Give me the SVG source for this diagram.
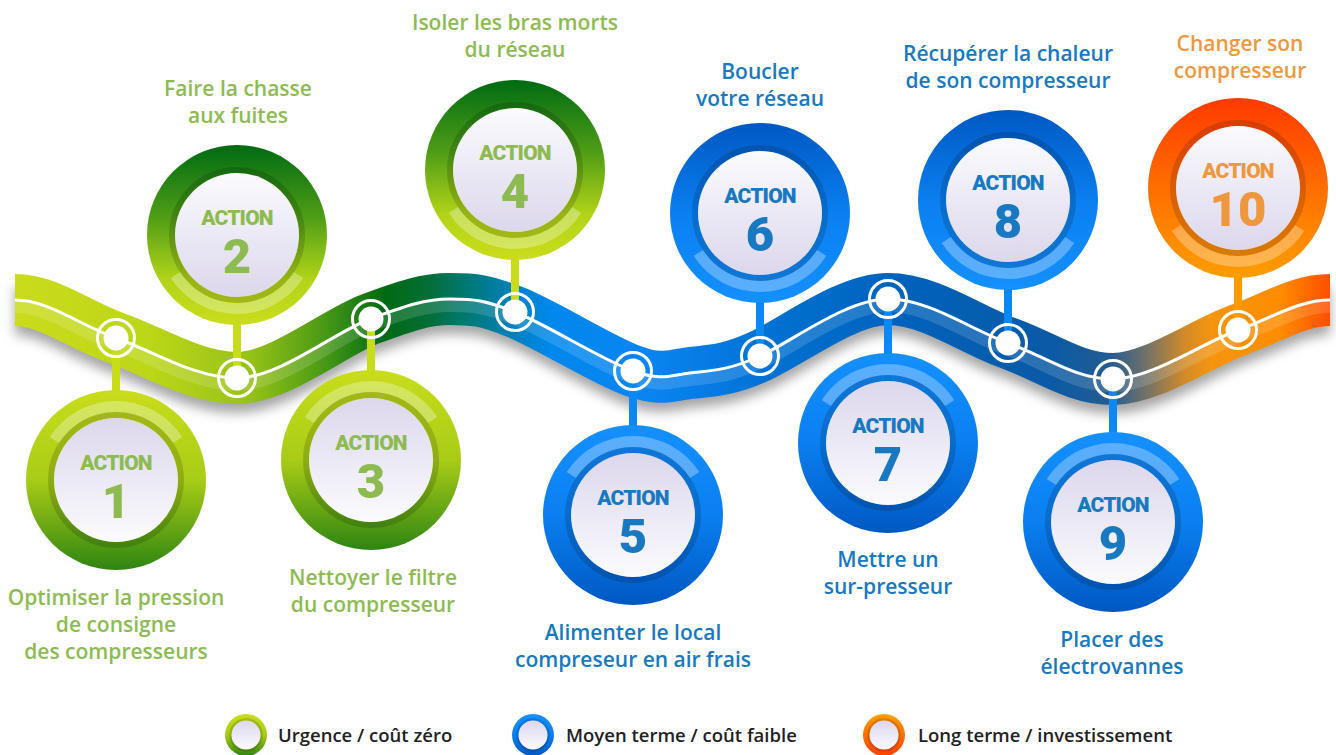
<svg xmlns="http://www.w3.org/2000/svg" xmlns:xlink="http://www.w3.org/1999/xlink" width="1336" height="755" viewBox="0 0 1336 755">
<defs>
<style>
.lbl{font-family:"Open Sans","Liberation Sans",sans-serif;font-weight:600;font-size:21px;text-anchor:middle}
.g{fill:#8dbb52}.b{fill:#1878c0}.o{fill:#ef973f}
.act{font-family:Roboto,"Liberation Sans",sans-serif;font-weight:900;font-size:21px;text-anchor:middle;letter-spacing:-0.8px}
.num{font-family:Roboto,"Liberation Sans",sans-serif;font-weight:900;font-size:49px;text-anchor:middle}
.hl{fill:#fff;fill-opacity:.3}
.dk{fill:none;stroke:#000;stroke-opacity:.15;stroke-width:6}
.stem{stroke-width:8;fill:none}
.sg{stroke:#c8dc1a}.sb{stroke:#0a88f6}.so{stroke:#ff9a00}
.dot{fill:#fff}
.dring{fill:none;stroke:#fff;stroke-width:3}
.leg{font-family:"Open Sans","Liberation Sans",sans-serif;font-weight:600;font-size:18.5px;fill:#222}
</style>
<linearGradient id="ribbon" gradientUnits="userSpaceOnUse" x1="15" y1="0" x2="1330" y2="0">
<stop offset="0" stop-color="#cadc1c"/>
<stop offset="0.103" stop-color="#bcd618"/>
<stop offset="0.179" stop-color="#96c218"/>
<stop offset="0.232" stop-color="#4e9c16"/>
<stop offset="0.281" stop-color="#006a12"/>
<stop offset="0.316" stop-color="#046e3a"/>
<stop offset="0.346" stop-color="#007a78"/>
<stop offset="0.376" stop-color="#0080b8"/>
<stop offset="0.407" stop-color="#0088ee"/>
<stop offset="0.483" stop-color="#0a84f2"/>
<stop offset="0.582" stop-color="#0070d0"/>
<stop offset="0.673" stop-color="#0062bc"/>
<stop offset="0.787" stop-color="#0a5aa6"/>
<stop offset="0.833" stop-color="#245c92"/>
<stop offset="0.863" stop-color="#7a7462"/>
<stop offset="0.890" stop-color="#d48a28"/>
<stop offset="0.909" stop-color="#f4960e"/>
<stop offset="0.962" stop-color="#ff8c00"/>
<stop offset="1" stop-color="#ff4e00"/>
</linearGradient>
<linearGradient id="rgB" x1="0" y1="0" x2="0" y2="1"><stop offset="0" stop-color="#c9dd1b"/><stop offset="0.5" stop-color="#a8cc17"/><stop offset="1" stop-color="#2e8512"/></linearGradient>
<linearGradient id="rgT" x1="0" y1="0" x2="0" y2="1"><stop offset="0" stop-color="#006b12"/><stop offset="0.4" stop-color="#4f9d16"/><stop offset="0.75" stop-color="#b3d418"/><stop offset="1" stop-color="#cadd1b"/></linearGradient>
<linearGradient id="rbB" x1="0" y1="0" x2="0" y2="1"><stop offset="0" stop-color="#1590ff"/><stop offset="0.5" stop-color="#0a7ff0"/><stop offset="1" stop-color="#0058c2"/></linearGradient>
<linearGradient id="rbT" x1="0" y1="0" x2="0" y2="1"><stop offset="0" stop-color="#0058c2"/><stop offset="0.5" stop-color="#0a7ff0"/><stop offset="1" stop-color="#1590ff"/></linearGradient>
<linearGradient id="roT" x1="0" y1="0" x2="0" y2="1"><stop offset="0" stop-color="#ff3a00"/><stop offset="0.5" stop-color="#ff6e00"/><stop offset="1" stop-color="#ff9e00"/></linearGradient>
<linearGradient id="roB" x1="0" y1="0" x2="0" y2="1"><stop offset="0" stop-color="#ff9e00"/><stop offset="1" stop-color="#ff4000"/></linearGradient>
<linearGradient id="dB" x1="0" y1="0" x2="0" y2="1"><stop offset="0" stop-color="#dcd7ec"/><stop offset="1" stop-color="#fbfbfe"/></linearGradient>
<linearGradient id="dT" x1="0" y1="0" x2="0" y2="1"><stop offset="0" stop-color="#fbfbfe"/><stop offset="1" stop-color="#dcd7ec"/></linearGradient>
<filter id="shadow" x="-5%" y="-50%" width="110%" height="200%"><feGaussianBlur stdDeviation="6"/></filter>
<path id="wave" d="M15,300 C48.7,300 79,325 116,338 C153,351 194.7,378 237,378 C279.3,378 334.5,332.2 370,319 C405.5,305.8 425.8,299 450,299 C474.2,299 484.5,300 515,312 C545.5,324 603.8,360.8 633,371 C662.2,381.2 668.8,375.5 690,373 C711.2,370.5 727,371 760,356 C793,341 846.7,299 888,299 C929.3,299 970.5,329.7 1008,343 C1045.5,356.3 1074.7,379 1113,379 C1151.3,379 1201.8,343.2 1238,330 C1274.2,316.8 1299.3,300 1330,300"/>
<path id="hl" d="M-66.3,-43 A79,79 0 0 1 66.3,-43 L57,-37 A68,68 0 0 0 -57,-37 Z"/>
</defs>

<rect width="1336" height="755" fill="#fff"/>

<g id="timeline">
<use xlink:href="#wave" href="#wave" fill="none" stroke="#000" stroke-opacity="0.35" stroke-width="48" transform="translate(0,11)" filter="url(#shadow)"/>
<use xlink:href="#wave" href="#wave" fill="none" stroke="url(#ribbon)" stroke-width="52"/>
<use xlink:href="#wave" href="#wave" fill="none" stroke="#fff" stroke-opacity="0.14" stroke-width="14" transform="translate(0,6)"/>
<use xlink:href="#wave" href="#wave" fill="none" stroke="#fff" stroke-width="3"/>
</g>

<g id="connectors">
<line class="stem sg" x1="116" y1="338" x2="116" y2="480"/>
<line class="stem sg" x1="237" y1="378" x2="237" y2="235"/>
<line class="stem sg" x1="371" y1="319" x2="371" y2="460"/>
<line class="stem sg" x1="515" y1="312" x2="515" y2="170"/>
<line class="stem sb" x1="633" y1="371" x2="633" y2="515"/>
<line class="stem sb" x1="760" y1="356" x2="760" y2="213"/>
<line class="stem sb" x1="888" y1="299" x2="888" y2="443"/>
<line class="stem sb" x1="1008" y1="343" x2="1008" y2="200"/>
<line class="stem sb" x1="1113" y1="379" x2="1113" y2="522"/>
<line class="stem so" x1="1238" y1="330" x2="1238" y2="188"/>
</g>

<g id="action1">
<circle class="dot" cx="116" cy="338" r="12.5"/><circle class="dring" cx="116" cy="338" r="18.5"/>
<g transform="translate(116,480)">
<circle r="90" fill="url(#rgB)"/><use xlink:href="#hl" href="#hl" class="hl"/><circle r="65" class="dk"/><circle r="62" fill="url(#dB)"/>
<text class="act g" y="-10">ACTION</text><text class="num g" y="38">1</text>
</g>
<text class="lbl g" x="116" y="605">Optimiser la pression</text>
<text class="lbl g" x="116" y="632">de consigne</text>
<text class="lbl g" x="116" y="659">des compresseurs</text>
</g>

<g id="action2">
<circle class="dot" cx="237" cy="378" r="12.5"/><circle class="dring" cx="237" cy="378" r="18.5"/>
<g transform="translate(237,235)">
<circle r="90" fill="url(#rgT)"/><use xlink:href="#hl" href="#hl" class="hl" transform="scale(1,-1)"/><circle r="65" class="dk"/><circle r="62" fill="url(#dT)"/>
<text class="act g" y="-10">ACTION</text><text class="num g" y="38">2</text>
</g>
<text class="lbl g" x="238" y="96">Faire la chasse</text>
<text class="lbl g" x="238" y="123">aux fuites</text>
</g>

<g id="action3">
<circle class="dot" cx="371" cy="319" r="12.5"/><circle class="dring" cx="371" cy="319" r="18.5"/>
<g transform="translate(371,460)">
<circle r="90" fill="url(#rgB)"/><use xlink:href="#hl" href="#hl" class="hl"/><circle r="65" class="dk"/><circle r="62" fill="url(#dB)"/>
<text class="act g" y="-10">ACTION</text><text class="num g" y="38">3</text>
</g>
<text class="lbl g" x="373" y="585">Nettoyer le filtre</text>
<text class="lbl g" x="373" y="612">du compresseur</text>
</g>

<g id="action4">
<circle class="dot" cx="515" cy="312" r="12.5"/><circle class="dring" cx="515" cy="312" r="18.5"/>
<g transform="translate(515,170)">
<circle r="90" fill="url(#rgT)"/><use xlink:href="#hl" href="#hl" class="hl" transform="scale(1,-1)"/><circle r="65" class="dk"/><circle r="62" fill="url(#dT)"/>
<text class="act g" y="-10">ACTION</text><text class="num g" y="38">4</text>
</g>
<text class="lbl g" x="515" y="30">Isoler les bras morts</text>
<text class="lbl g" x="515" y="57">du réseau</text>
</g>

<g id="action5">
<circle class="dot" cx="633" cy="371" r="12.5"/><circle class="dring" cx="633" cy="371" r="18.5"/>
<g transform="translate(633,515)">
<circle r="90" fill="url(#rbB)"/><use xlink:href="#hl" href="#hl" class="hl"/><circle r="65" class="dk"/><circle r="62" fill="url(#dB)"/>
<text class="act b" y="-10">ACTION</text><text class="num b" y="38">5</text>
</g>
<text class="lbl b" x="633" y="640">Alimenter le local</text>
<text class="lbl b" x="633" y="667">compreseur en air frais</text>
</g>

<g id="action6">
<circle class="dot" cx="760" cy="356" r="12.5"/><circle class="dring" cx="760" cy="356" r="18.5"/>
<g transform="translate(760,213)">
<circle r="90" fill="url(#rbT)"/><use xlink:href="#hl" href="#hl" class="hl" transform="scale(1,-1)"/><circle r="65" class="dk"/><circle r="62" fill="url(#dT)"/>
<text class="act b" y="-10">ACTION</text><text class="num b" y="38">6</text>
</g>
<text class="lbl b" x="760" y="79">Boucler</text>
<text class="lbl b" x="760" y="106">votre réseau</text>
</g>

<g id="action7">
<circle class="dot" cx="888" cy="299" r="12.5"/><circle class="dring" cx="888" cy="299" r="18.5"/>
<g transform="translate(888,443)">
<circle r="90" fill="url(#rbB)"/><use xlink:href="#hl" href="#hl" class="hl"/><circle r="65" class="dk"/><circle r="62" fill="url(#dB)"/>
<text class="act b" y="-10">ACTION</text><text class="num b" y="38">7</text>
</g>
<text class="lbl b" x="888" y="567">Mettre un</text>
<text class="lbl b" x="888" y="594">sur-presseur</text>
</g>

<g id="action8">
<circle class="dot" cx="1008" cy="343" r="12.5"/><circle class="dring" cx="1008" cy="343" r="18.5"/>
<g transform="translate(1008,200)">
<circle r="90" fill="url(#rbT)"/><use xlink:href="#hl" href="#hl" class="hl" transform="scale(1,-1)"/><circle r="65" class="dk"/><circle r="62" fill="url(#dT)"/>
<text class="act b" y="-10">ACTION</text><text class="num b" y="38">8</text>
</g>
<text class="lbl b" x="1008" y="61">Récupérer la chaleur</text>
<text class="lbl b" x="1008" y="88">de son compresseur</text>
</g>

<g id="action9">
<circle class="dot" cx="1113" cy="379" r="12.5"/><circle class="dring" cx="1113" cy="379" r="18.5"/>
<g transform="translate(1113,522)">
<circle r="90" fill="url(#rbB)"/><use xlink:href="#hl" href="#hl" class="hl"/><circle r="65" class="dk"/><circle r="62" fill="url(#dB)"/>
<text class="act b" y="-10">ACTION</text><text class="num b" y="38">9</text>
</g>
<text class="lbl b" x="1112" y="647">Placer des</text>
<text class="lbl b" x="1112" y="674">électrovannes</text>
</g>

<g id="action10">
<circle class="dot" cx="1238" cy="330" r="12.5"/><circle class="dring" cx="1238" cy="330" r="18.5"/>
<g transform="translate(1238,188)">
<circle r="90" fill="url(#roT)"/><use xlink:href="#hl" href="#hl" class="hl" transform="scale(1,-1)"/><circle r="65" class="dk"/><circle r="62" fill="url(#dT)"/>
<text class="act o" y="-10">ACTION</text><text class="num o" y="38">10</text>
</g>
<text class="lbl o" x="1240" y="51">Changer son</text>
<text class="lbl o" x="1240" y="78">compresseur</text>
</g>

<g id="legend">
<g id="legend-green" transform="translate(246,735)"><circle r="21" fill="url(#rgB)"/><circle r="15.5" class="dk" style="stroke-width:2.5"/><circle r="14.5" fill="url(#dB)"/></g>
<text class="leg" x="278" y="742">Urgence / coût zéro</text>
<g id="legend-blue" transform="translate(533,735)"><circle r="21" fill="url(#rbB)"/><circle r="15.5" class="dk" style="stroke-width:2.5"/><circle r="14.5" fill="url(#dB)"/></g>
<text class="leg" x="566" y="742">Moyen terme / coût faible</text>
<g id="legend-orange" transform="translate(884,735)"><circle r="21" fill="url(#roB)"/><circle r="15.5" class="dk" style="stroke-width:2.5"/><circle r="14.5" fill="url(#dB)"/></g>
<text class="leg" x="918" y="742">Long terme / investissement</text>
</g>
</svg>
